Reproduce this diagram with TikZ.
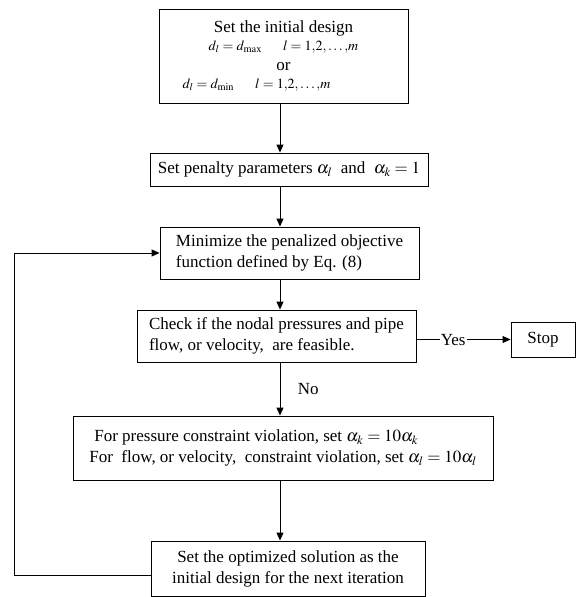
\documentclass[tikz,border=0pt]{standalone}
\usepackage{mathptmx}
\usepackage{fontspec}
\setmainfont{Liberation Serif}
\usetikzlibrary{positioning,arrows.meta}

\begin{document}
\begin{tikzpicture}[x=1pt,y=-1pt,
  every node/.style={font=\fontsize{17}{21}\selectfont},
  stepbox/.style={draw,line width=0.9pt,inner sep=0pt},
  link/.style={line width=0.9pt},
  arr/.style={link,-{Triangle[length=8pt,width=7pt]}}]
\useasboundingbox (0,0) rectangle (576,597);
% vertical spine of the chart and the corner of the loop back
\coordinate (spine) at (280,0);
\coordinate (loop) at (14,575);
% boxes
\node [stepbox,align=center,minimum width=249,minimum height=94] (init) at (283.5,56)
  {Set the initial design\\[-3pt]
   {\fontsize{14}{17}\selectfont $d_l=d_{\max}$\quad\ \ $l=1{,}2{,}\ldots{,}m$}\hspace*{54pt}\\[-1pt]
   or\\[-3pt]
   {\fontsize{14}{17}\selectfont $d_l=d_{\min}$\quad\ \ $l=1{,}2{,}\ldots{,}m$}\hspace*{54pt}};
\node [stepbox,minimum width=278,minimum height=33] (penalty) at (289,169.5)
  {Set penalty parameters $\alpha_l$\ \ and\ \ $\alpha_k=1$};
\node [stepbox,align=left,minimum width=259,minimum height=52] (minim) at (289.5,253)
  {Minimize the penalized objective\\function defined by Eq. (8)};
\node [stepbox,align=left,minimum width=279,minimum height=52] (check) at (276.5,336)
  {Check if the nodal pressures and pipe\\flow, or velocity,\ \ are feasible.};
\node [stepbox,minimum width=64,minimum height=35] (stop) at (543,339.5) {Stop};
\node [stepbox,align=left,minimum width=420,minimum height=64] (update) at (283,448)
  {\hspace*{5pt}For pressure constraint violation, set $\alpha_k=10\alpha_k$\\
   For\ \ flow, or velocity,\ \ constraint violation, set $\alpha_l=10\alpha_l$};
\node [stepbox,align=center,minimum width=274,minimum height=55] (next) at (288,568.5)
  {Set the optimized solution as the\\initial design for the next iteration};
% connectors
\draw [arr] (init.south -| spine) -- (penalty.north -| spine);
\draw [arr] (penalty.south -| spine) -- (minim.north -| spine);
\draw [arr] (minim.south -| spine) -- (check.north -| spine);
\draw [arr] (check.south -| spine) -- node [midway,right=14pt] {No} (update.north -| spine);
\draw [arr] (update.south -| spine) -- (next.north -| spine);
\draw [arr] (check.east |- stop.west) -- node [pos=0.39,fill=white,inner sep=1pt,yshift=-1pt] {Yes} (stop.west);
\draw [arr] (next.west |- loop) -- (loop) |- (minim.west);
\end{tikzpicture}
\end{document}
